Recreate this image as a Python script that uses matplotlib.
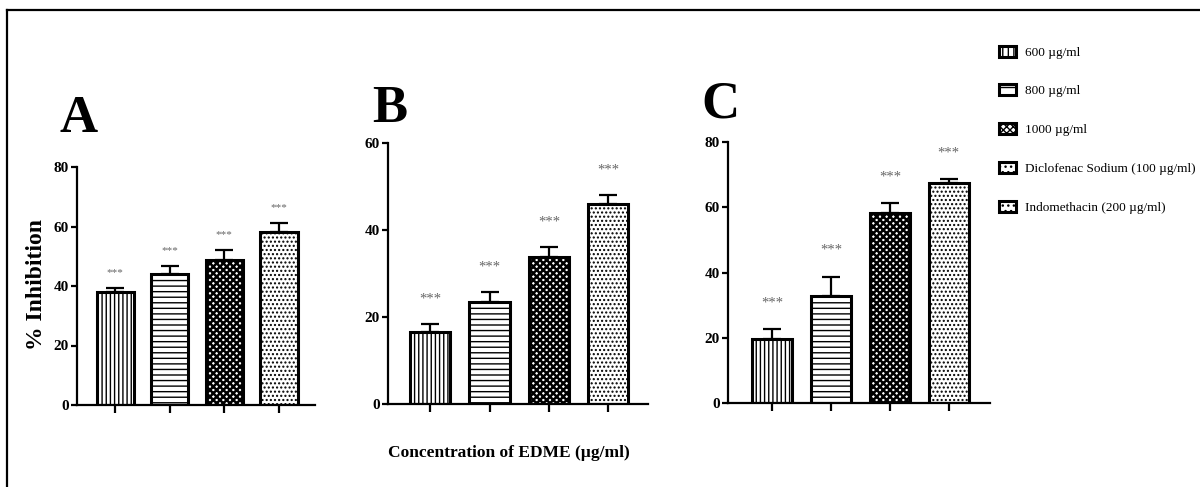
import numpy as np
import matplotlib
matplotlib.use("Agg")
import matplotlib.pyplot as plt
from matplotlib.patches import Patch
from matplotlib.lines import Line2D

plt.rcParams["font.family"] = ["Liberation Serif", "DejaVu Serif"]
plt.rcParams["hatch.linewidth"] = 1.0

# data (% inhibition, mean and upper SEM)
groups = ["600", "800", "1000", "std"]
vals_a = [38.0, 44.0, 48.7, 58.0]
err_a = [1.3, 2.6, 3.3, 3.3]
vals_b = [16.6, 23.4, 33.8, 46.0]
err_b = [1.7, 2.3, 2.3, 2.0]
vals_c = [19.7, 32.8, 58.3, 67.5]
err_c = [2.9, 5.9, 2.9, 1.1]
stars = ["***", "***", "***", "***"]

legend_labels = ["600 µg/ml", "800 µg/ml", "1000 µg/ml",
                 "Diclofenac Sodium (100 µg/ml)", "Indomethacin (200 µg/ml)"]
legend_hatch = ["|||", "--", "xxxxx", "...", "..."]
bar_hatch = ["||||", "---", "xxxxx", "...."]
hatch_lw = [1.0, 1.0, 1.8, 1.0, 1.0]

W, H = 1200, 487
fig = plt.figure(figsize=(W / 100, H / 100), dpi=100)


def fx(px):
    return px / W


def fy(py):
    return 1 - py / H


def set_hlw(p, lw):
    try:
        p.set_hatch_linewidth(lw)
    except AttributeError:
        pass


def panel(rect, vals, err, yticks, letter, letter_pos, xlim, star_off, star_fs):
    l, t, r, b = rect
    ax = fig.add_axes([fx(l), fy(b), fx(r - l), fy(t) - fy(b)])
    x = np.arange(len(vals))
    ax.errorbar(x, vals, yerr=[np.zeros(len(err)), err], fmt="none",
                ecolor="black", elinewidth=1.6, capsize=6.5, capthick=1.6, zorder=1)
    for xi, v, h, hl in zip(x, vals, bar_hatch, hatch_lw):
        bars = ax.bar(xi, v, width=0.68, facecolor="white", edgecolor="black",
                      linewidth=2.2, hatch=h, zorder=2)
        for p in bars:
            set_hlw(p, hl)
    for xi, v, e, s in zip(x, vals, err, stars):
        ax.annotate(s, (xi, v + e), xytext=(0, star_off), textcoords="offset points",
                    ha="center", va="center", fontsize=star_fs, color="#666666")
    ax.set_xlim(*xlim)
    ax.set_ylim(0, yticks[-1])
    ax.set_yticks(yticks)
    ax.set_xticks(x)
    ax.set_xticklabels([])
    for sp in ["top", "right"]:
        ax.spines[sp].set_visible(False)
    for sp in ["left", "bottom"]:
        ax.spines[sp].set_linewidth(1.6)
    ax.tick_params(axis="y", length=4, width=1.6, pad=2, labelsize=11)
    ax.tick_params(axis="x", length=6, width=1.6)
    for lab in ax.get_yticklabels():
        lab.set_fontweight("bold")
    fig.text(fx(letter_pos[0]), fy(letter_pos[1]), letter, fontsize=38,
             fontweight="bold", ha="center", va="baseline")
    return ax


panel((77, 167, 315, 405), vals_a, err_a, [0, 20, 40, 60, 80], "A", (79, 132),
      (-0.7, 3.66), 11, 8)
panel((388, 143, 648, 404), vals_b, err_b, [0, 20, 40, 60], "B", (390, 122),
      (-0.71, 3.67), 18, 10.5)
panel((728, 142, 990, 403), vals_c, err_c, [0, 20, 40, 60, 80], "C", (720, 118),
      (-0.75, 3.7), 19, 10.5)

fig.text(fx(37), fy(285), "% Inhibition", rotation=90, fontsize=17,
         fontweight="bold", ha="center", va="center")
fig.text(fx(509), fy(453), "Concentration of EDME (µg/ml)", fontsize=12.5,
         fontweight="bold", ha="center", va="center")

handles = []
for h, hl in zip(legend_hatch, hatch_lw):
    p = Patch(facecolor="white", edgecolor="black", linewidth=2.2, hatch=h)
    set_hlw(p, hl)
    handles.append(p)
fig.legend(handles, legend_labels, loc="upper left",
           bbox_to_anchor=(fx(992), fy(39)), frameon=False, fontsize=9.5,
           handlelength=1.3, handleheight=0.9, handletextpad=0.7,
           labelspacing=1.95, borderpad=0)

# outer frame (top and left edges visible in the original crop)
fig.add_artist(Line2D([fx(7), 1], [fy(10), fy(10)], color="black", lw=1.6))
fig.add_artist(Line2D([fx(7), fx(7)], [0, fy(10)], color="black", lw=1.6))

fig.savefig("out.png", dpi=100)
